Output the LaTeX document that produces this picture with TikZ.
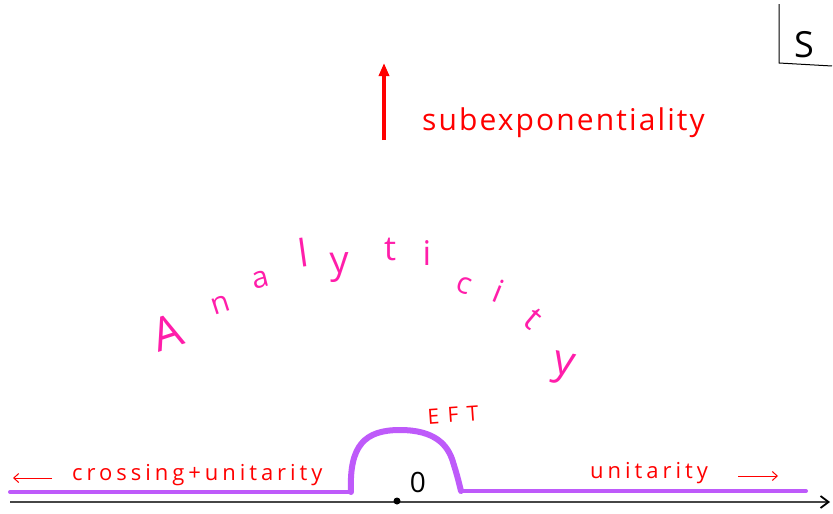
\documentclass[tikz,border=0pt]{standalone}
\usepackage{fontspec}
\setmainfont{Open Sans}
\newfontfamily\handA[LetterSpace=7]{Open Sans}
\newfontfamily\handB[LetterSpace=18]{Open Sans}
\newfontfamily\handC[LetterSpace=40]{Open Sans}
\newfontfamily\hand{Open Sans}
\usetikzlibrary{arrows.meta}
\definecolor{hred}{RGB}{255,0,0}
\definecolor{hpink}{RGB}{255,30,170}
\definecolor{hpurple}{RGB}{190,90,250}
\definecolor{axisgray}{RGB}{70,70,70}
\tikzset{
  sublab/.style={text=hred, font=\handA\fontsize{30}{32}\selectfont, inner sep=0},
  redlab/.style={text=hred, font=\handB\fontsize{22}{24}\selectfont, inner sep=0},
  eftlab/.style={text=hred, font=\handC\fontsize{21}{23}\selectfont, inner sep=0},
  anal/.style={text=hpink, font=\hand\fontsize{30}{32}\selectfont, inner sep=0, anchor=mid},
  harrow/.style={draw=hred, line width=1, -{Straight Barb[length=5,width=9]}},
  pline/.style={draw=hpurple, line width=4, line cap=round, line join=round},
}
\begin{document}
\begin{tikzpicture}[x=1pt,y=-1pt]
\useasboundingbox (0,0) rectangle (833,514);

% S box
\coordinate (sb0) at (779,4);
\coordinate (sb1) at (779,63);
\coordinate (sb2) at (832,66);
\draw[black, line width=1] (sb0) -- (sb1) -- (sb2);
\node[font=\hand\fontsize{36}{40}\selectfont, inner sep=0] (S) at (804,45) {S};

% red arrow and subexponentiality
\coordinate (subL) at (384,140);
\coordinate (subT) at (384,63);
\draw[hred, line width=3.2, -{Triangle[length=13,width=10]}] (subL) -- (subT);
\node[sublab, anchor=base west] (sub) at (422,130) {subexponentiality};

% Analyticity
\node[anal, font=\hand\fontsize{46}{48}\selectfont, rotate=18] (a1) at (172,345) {A};
\node[anal, rotate=18] (a2) at (222,310) {n};
\node[anal, rotate=14] (a3) at (262,285) {a};
\node[anal, font=\hand\fontsize{38}{40}\selectfont, rotate=8] (a4) at (305,264) {l};
\node[anal, font=\hand\fontsize{38}{40}\selectfont, rotate=2] (a5) at (340,270) {y};
\node[anal, font=\hand\fontsize{34}{36}\selectfont] (a6) at (390,258) {t};
\node[anal, font=\hand\fontsize{34}{36}\selectfont] (a7) at (427,263) {i};
\node[anal, rotate=-20] (a8) at (462,290) {c};
\node[anal, font=\hand\fontsize{32}{34}\selectfont, rotate=-22] (a9) at (495,300) {i};
\node[anal, font=\hand\fontsize{34}{36}\selectfont, rotate=-40] (a10) at (528,325) {t};
\node[anal, rotate=-12, font=\hand\fontsize{42}{44}\selectfont] (a11) at (562,372) {y};

% EFT
\node[eftlab, rotate=4] (eft) at (453,415) {EFT};

% axis
\coordinate (ax0) at (10,502);
\coordinate (ax1) at (830,502);
\draw[axisgray, line width=1.8, -{Straight Barb[length=8,width=12,black]}] (ax0) -- (ax1);
\node[circle, fill=black, inner sep=0, minimum size=7] (orig) at (397,501) {};
\node[font=\hand\fontsize{28}{30}\selectfont, inner sep=0] (zero) at (418,482) {0};

% purple contour
\coordinate (pl0) at (10,492);
\coordinate (pl1) at (351,492);
\coordinate (ptop) at (400,430);
\coordinate (pr0) at (461,491);
\coordinate (pr1) at (806,491);
\draw[pline] (pl0) -- (pl1);
\draw[pline, line width=6] (pl1) .. controls (349,445) and (365,430) .. (ptop)
  .. controls (435,430) and (448,445) .. (453,462) .. controls (457,475) .. (pr0);
\draw[pline] (pr0) -- (pr1);

% labels on the real axis
\coordinate (la1) at (52,478);
\coordinate (la2) at (13,478);
\draw[harrow] (la1) -- (la2);
\node[redlab, anchor=base west] (cross) at (72,480) {crossing+unitarity};
\node[redlab, anchor=base west] (unit) at (590,478) {unitarity};
\coordinate (ra1) at (738,476);
\coordinate (ra2) at (778,476);
\draw[harrow] (ra1) -- (ra2);
\end{tikzpicture}
\end{document}
